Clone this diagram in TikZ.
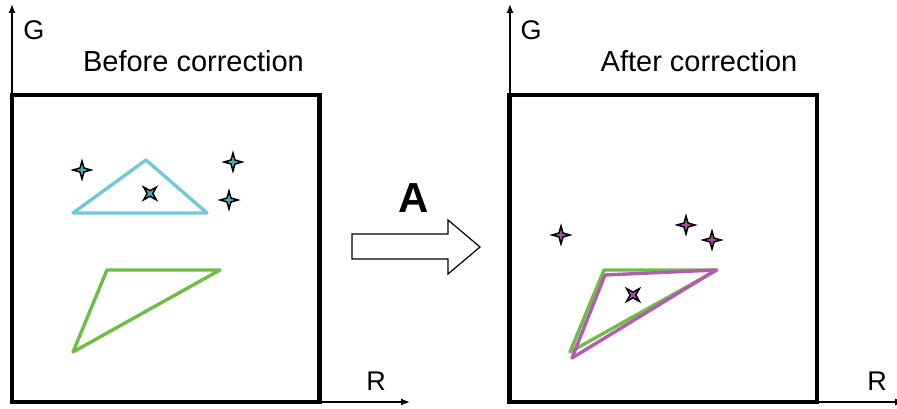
\documentclass[tikz,border=0pt]{standalone}
\usepackage{fontspec}
\setmainfont{Liberation Sans}
\usetikzlibrary{shapes.geometric,arrows.meta}
\definecolor{triCyan}{RGB}{115,200,214}
\definecolor{starCyan}{RGB}{70,175,185}
\definecolor{triGreen}{RGB}{110,190,70}
\definecolor{triMag}{RGB}{180,90,180}
\definecolor{starMag}{RGB}{170,75,170}
\tikzset{
  axis/.style={line width=1.3pt,-{Latex[length=9pt,width=7pt]}},
  frame/.style={draw=black,line width=4.5pt,inner sep=0pt,minimum width=307.5pt,minimum height=307pt},
  tri/.style={line width=3.4pt,line join=round},
  spark/.style={star,star points=4,star point ratio=3.2,minimum size=18pt,inner sep=0pt,draw=black,line width=1.5pt},
  axlabel/.style={font=\fontsize{27}{30}\selectfont,anchor=base},
  title/.style={font=\fontsize{29}{34}\selectfont,anchor=base}
}
\begin{document}
\begin{tikzpicture}[x=1pt,y=-1pt]
\useasboundingbox (0,0) rectangle (897,409);
% left panel
\coordinate (oL) at (12,402);
\coordinate (gL) at (12,4);
\coordinate (rL) at (410,402);
\draw[axis] (oL) -- (gL);
\draw[axis] (oL) -- (rL);
\node[frame] (boxL) at (165.75,248.5) {};
\node[axlabel] (GL) at (34,40) {G};
\node[axlabel] (RL) at (376,390) {R};
\node[title] (tL) at (193.5,72) {Before correction};
\draw[tri,triCyan] (73,213) -- (146,160) -- (207,213) -- cycle;
\draw[tri,triGreen] (73,352) -- (107,270) -- (220,270) -- cycle;
\node[spark,fill=starCyan] (s1) at (82,170) {};
\node[spark,fill=starCyan] (s2) at (233,162) {};
\node[spark,fill=starCyan] (s3) at (229,200) {};
\node[spark,fill=starCyan,shape border rotate=45] (s4) at (150,193.5) {};
% arrow
\draw[line width=1.2pt,line join=miter,fill=white] (352,234) -- (448,234) -- (448,220) -- (480,247) -- (448,274) -- (448,259) -- (352,259) -- cycle;
\node[font=\bfseries\fontsize{42}{48}\selectfont,anchor=base] (A) at (414,212) {A};
% right panel
\coordinate (oR) at (510,402);
\coordinate (gR) at (510,4);
\coordinate (rR) at (904,402);
\draw[axis] (oR) -- (gR);
\draw[axis] (oR) -- (rR);
\node[frame] (boxR) at (663,248.5) {};
\node[axlabel] (GR) at (531,40) {G};
\node[axlabel] (RR) at (877,390) {R};
\node[title] (tR) at (699,72) {After correction};
\draw[tri,triGreen] (570,352) -- (604,270) -- (717,270) -- cycle;
\draw[tri,triMag] (572,358) -- (605,275) -- (716,270) -- cycle;
\node[spark,fill=starMag] (m1) at (561,235) {};
\node[spark,fill=starMag] (m2) at (686,225) {};
\node[spark,fill=starMag] (m3) at (712,240) {};
\node[spark,fill=starMag,shape border rotate=45] (m4) at (633,295) {};
\end{tikzpicture}
\end{document}
